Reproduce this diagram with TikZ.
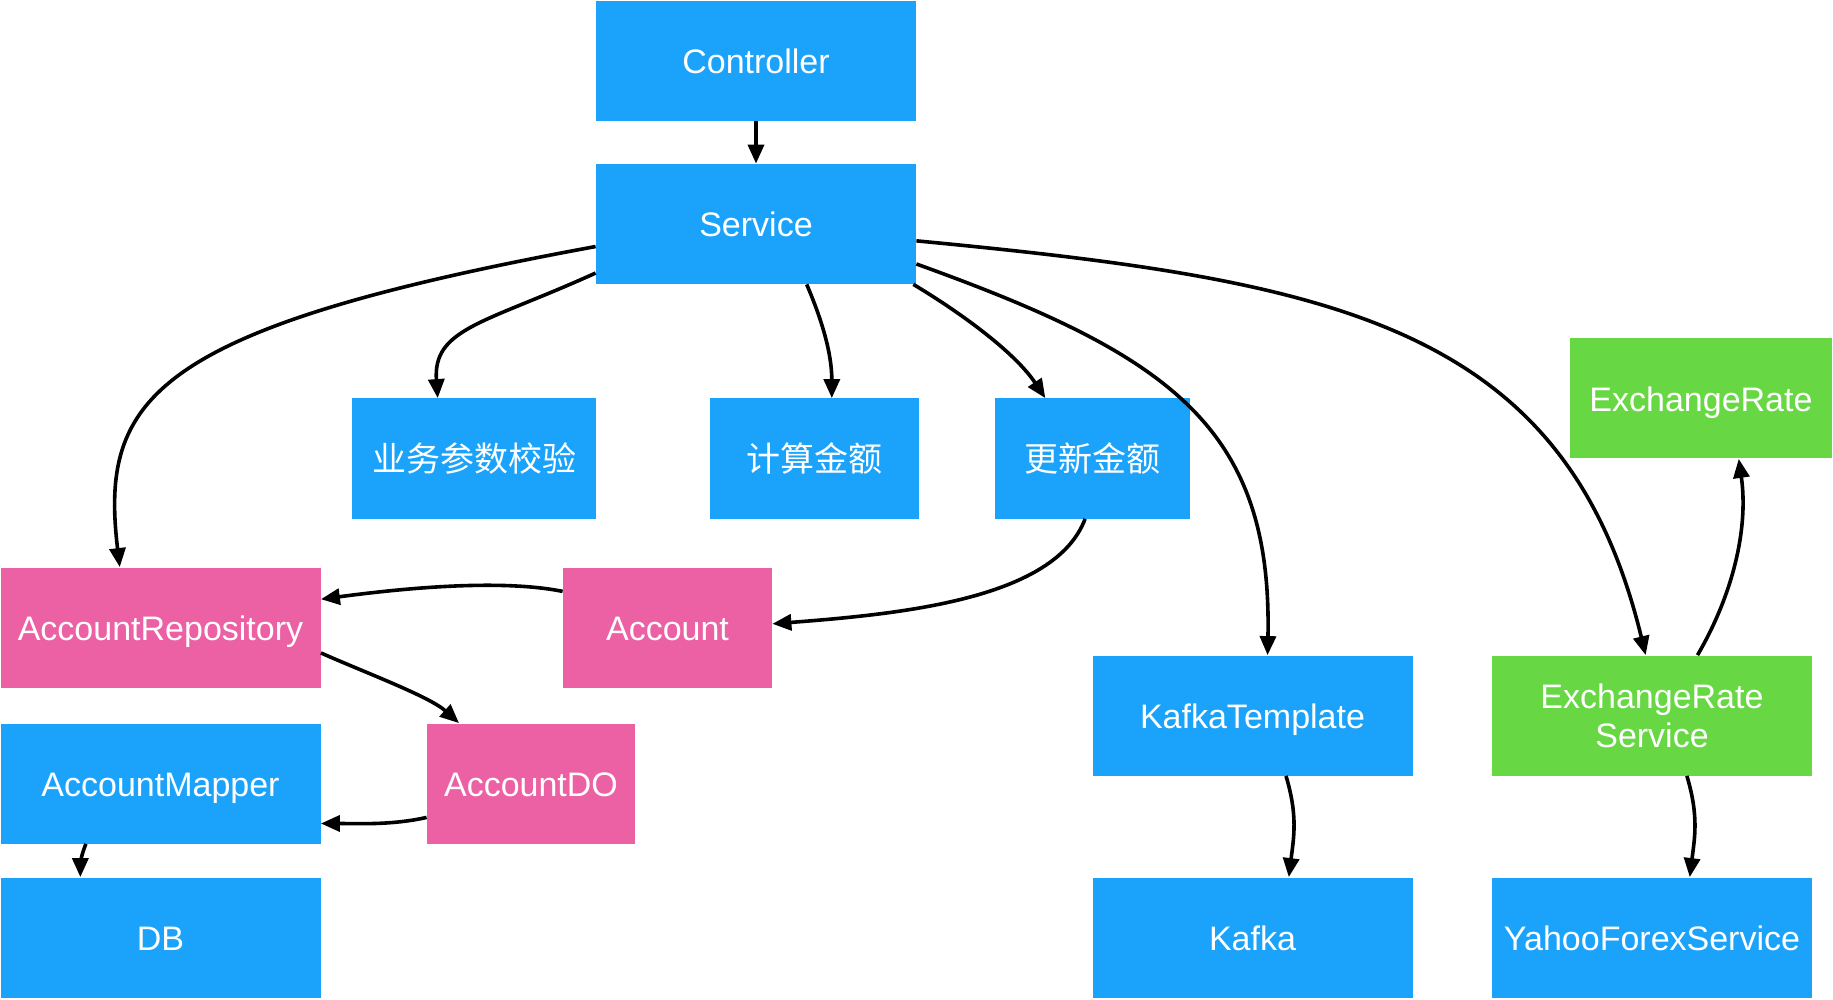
\documentclass[tikz,border=0pt]{standalone}
\usepackage{fontspec}
\setmainfont{Liberation Sans}
\newfontfamily\cjk{Noto Sans CJK SC}
\usetikzlibrary{arrows.meta}
\definecolor{boxblue}{RGB}{27,163,252}
\definecolor{boxpink}{RGB}{236,96,164}
\definecolor{boxgreen}{RGB}{103,215,68}

\begin{document}
\begin{tikzpicture}[x=0.5pt,y=-0.5pt,
  box/.style={minimum width=160pt, minimum height=60pt, inner sep=0pt,
    text=white, align=center, text height=14pt, text depth=1pt,
    font=\fontsize{17}{19.5}\selectfont},
  bluebox/.style={box, fill=boxblue},
  pinkbox/.style={box, fill=boxpink},
  greenbox/.style={box, fill=boxgreen},
  arr/.style={-{Triangle[length=9.5pt,width=8pt]}, line width=1.8pt}]
\useasboundingbox (0,0) rectangle (1833,1000);

% boxes
\node[bluebox] (ctrl) at (756,61) {Controller};
\node[bluebox] (svc) at (756,224) {Service};
\node[bluebox, minimum width=122pt] (chk) at (474,458.5) {\cjk 业务参数校验};
\node[bluebox, minimum width=104.5pt] (calc) at (814.5,458.5) {\cjk 计算金额};
\node[bluebox, minimum width=97.5pt] (upd) at (1092.5,458.5) {\cjk 更新金额};
\node[greenbox, minimum width=131pt] (rate) at (1701,398.5) {ExchangeRate};
\node[pinkbox] (repo) at (160.5,627.5) {AccountRepository};
\node[pinkbox, minimum width=104.5pt] (acct) at (667.5,627.5) {Account};
\node[bluebox] (kt) at (1252.5,715.5) {KafkaTemplate};
\node[greenbox, text height={}, text depth={}] (ers) at (1652,715.5) {ExchangeRate\\Service};
\node[bluebox] (mapper) at (160.5,783.5) {AccountMapper};
\node[pinkbox, minimum width=104pt] (ado) at (531,783.5) {AccountDO};
\node[bluebox] (db) at (160.5,937.5) {DB};
\node[bluebox] (kafka) at (1252.5,937.5) {Kafka};
\node[bluebox] (yahoo) at (1652,937.5) {YahooForexService};

% calls
\draw[arr] (ctrl) -- (svc);
\draw[arr] (svc.188) .. controls +(-446,82) and +(-20,-168) .. (repo.124);
\draw[arr] (svc.197) .. controls +(-110,50) and +(-5,-70) .. (chk.121);
\draw[arr] (svc.310) .. controls +(15,35) and +(0,-45) .. (calc.74);
\draw[arr] (svc.339) .. controls +(50,30) and +(-30,-45) .. (upd.128);
\draw[arr] (svc.346) .. controls +(250,90) and +(5,-230) .. (kt.76);
\draw[arr] (svc.354) .. controls +(420,40) and +(-80,-330) .. (ers.96);
\draw[arr] (ers.53) .. controls +(35,-60) and +(10,70) .. (rate.302);
\draw[arr] (upd.263) .. controls +(-30,80) and +(130,-10) .. (acct.2);
\draw[arr] (acct.161) .. controls +(-60,-12) and +(90,-12) .. (repo.10);
\draw[arr] (repo.351) .. controls +(40,18) and +(-30,-27) .. (ado.140);
\draw[arr] (ado.198) .. controls +(-35,8) and +(35,0) .. (mapper.346);
\draw[arr] (mapper.219) .. controls +(-5,12) and +(0,-12) .. (db.143);
\draw[arr] (kt.299) .. controls +(12,40) and +(5,-40) .. (kafka.59);
\draw[arr] (ers.300) .. controls +(12,40) and +(5,-40) .. (yahoo.58);
\end{tikzpicture}
\end{document}
